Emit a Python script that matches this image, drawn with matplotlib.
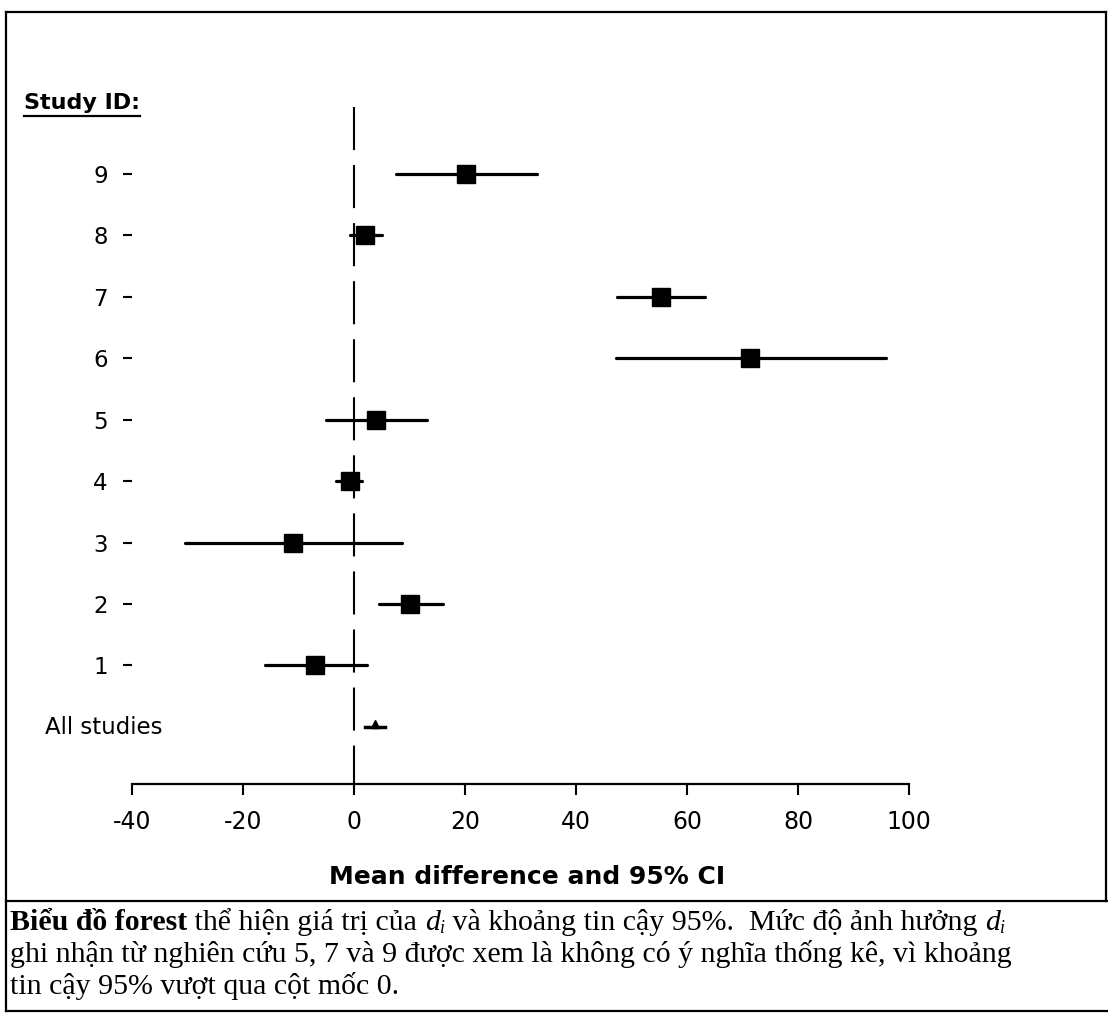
import matplotlib
matplotlib.use("Agg")
import matplotlib.pyplot as plt
from matplotlib.lines import Line2D

# study rows (bottom to top), mean difference and 95% CI
study_ids = [1, 2, 3, 4, 5, 6, 7, 8, 9]
mean_diff = [-7.0, 10.1, -11.0, -0.8, 4.0, 71.3, 55.3, 2.0, 20.1]
ci_low = [-16.0, 4.5, -30.4, -3.2, -5.0, 47.2, 47.4, -0.8, 7.6]
ci_high = [2.4, 16.1, 8.6, 1.5, 13.2, 95.9, 63.3, 5.1, 33.0]

# pooled estimate
all_mean = 3.7
all_low = 1.9
all_high = 5.5

x_ticks = [-40, -20, 0, 20, 40, 60, 80, 100]

W, H = 1108, 1013
plt.rcParams['lines.scale_dashes'] = False
fig = plt.figure(figsize=(W / 100, H / 100), dpi=100)


def fx(x):
    return x / W


def fy(y):
    return 1 - y / H


ax = fig.add_axes([fx(132), fy(784), (909 - 132) / W, (784 - 107) / H])
ax.set_xlim(-40, 100)
ax.set_ylim(-0.93, 10.09)

# zero reference line (dashed), drawn from the top down
ax.plot([0, 0], [10.09, -1.07], color='black', lw=1.5,
        linestyle=(0, (31, 10.8)), clip_on=False, solid_capstyle='butt')

lc = ax.hlines(study_ids, ci_low, ci_high, color='black', lw=2.3)
lc.set_capstyle('round')
ax.plot(mean_diff, study_ids, 's', color='black', ms=13)

# all studies
ax.plot([all_low, all_high], [0, 0], color='black', lw=2.5)
ax.plot([all_mean], [0.05], marker='^', color='black', ms=6)

for s in ['left', 'top', 'right']:
    ax.spines[s].set_visible(False)
ax.spines['bottom'].set_linewidth(1.6)

ax.set_xticks(x_ticks)
ax.set_xticklabels([str(t) for t in x_ticks], fontsize=17, family='DejaVu Sans')
ax.tick_params(axis='x', direction='out', length=8, width=1.5, pad=11)
ax.set_yticks(study_ids)
ax.set_yticklabels([str(i) for i in study_ids], fontsize=16.5, family='DejaVu Sans')
ax.tick_params(axis='y', direction='out', length=6.5, width=1.5, pad=11)

fig.text(fx(527), fy(877), 'Mean difference and 95% CI', ha='center', va='center',
         fontsize=18, family='DejaVu Sans', weight='bold')
fig.text(fx(45), fy(728), 'All studies', ha='left', va='center',
         fontsize=16.5, family='DejaVu Sans')
sid = fig.text(fx(24), fy(103), 'Study ID:', ha='left', va='center',
               fontsize=16, family='DejaVu Sans', weight='bold')

# frame lines
frame = [
    ([6, 1106], [12, 12]),
    ([6, 6], [12, 1011]),
    ([1106, 1106], [12, 901]),
    ([6, 1108], [901, 901]),
    ([6, 1108], [1011, 1011]),
]
for xs, ys in frame:
    fig.add_artist(Line2D([fx(v) for v in xs], [fy(v) for v in ys],
                          color='black', lw=1.6))

fig.canvas.draw()
renderer = fig.canvas.get_renderer()
bb = sid.get_window_extent(renderer)
fig.add_artist(Line2D([bb.x0 / W, bb.x1 / W], [fy(116), fy(116)],
                      color='black', lw=1.6))

# caption, written run by run
serif = 'Liberation Serif'
cap_size = 21.5
caption_lines = [
    [("Biểu đồ forest", 'bold', 'normal', 0), (" thể hiện giá trị của ", 'normal', 'normal', 0),
     ("d", 'normal', 'italic', 0), ("i", 'normal', 'italic', 1),
     (" và khoảng tin cậy 95%.  Mức độ ảnh hưởng ", 'normal', 'normal', 0),
     ("d", 'normal', 'italic', 0), ("i", 'normal', 'italic', 1)],
    [("ghi nhận từ nghiên cứu 5, 7 và 9 được xem là không có ý nghĩa thống kê, vì khoảng",
      'normal', 'normal', 0)],
    [("tin cậy 95% vượt qua cột mốc 0.", 'normal', 'normal', 0)],
]
baselines = [930, 962, 994]

for runs, base in zip(caption_lines, baselines):
    x = 10
    for txt, wt, st, sub in runs:
        size = cap_size * 0.6 if sub else cap_size
        y = base + (3 if sub else 0)
        t = fig.text(fx(x), fy(y), txt, ha='left', va='baseline', fontsize=size,
                     family=serif, weight=wt, style=st)
        ext = t.get_window_extent(renderer)
        x += ext.width

fig.savefig('out.png', dpi=100)
